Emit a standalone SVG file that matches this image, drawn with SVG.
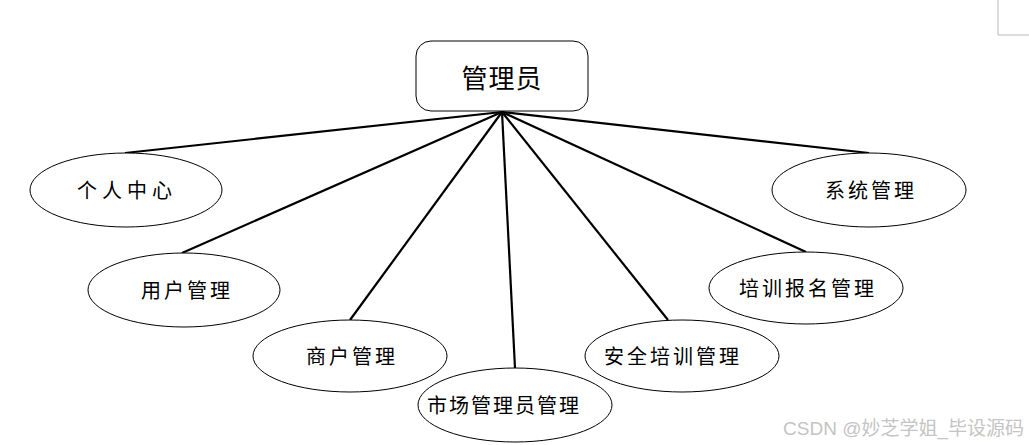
<svg xmlns="http://www.w3.org/2000/svg" width="1029" height="445" viewBox="0 0 1029 445">
<style>
.n{fill:#fff;stroke:#000;stroke-width:1}
.t{font-family:"Noto Sans CJK SC","Noto Sans",sans-serif;font-size:20px;fill:#000;text-anchor:middle;dominant-baseline:central;letter-spacing:3px}
.c line{stroke:#000;stroke-width:2.2}
</style>
<rect width="1029" height="445" fill="#fff"/>
<path d="M998 0V35H1029" fill="none" stroke="#bbb" stroke-width="1"/>
<g class="c" id="connectors">
<line x1="502" y1="112" x2="125" y2="153"/>
<line x1="502" y1="112" x2="869" y2="153"/>
<line x1="502" y1="112" x2="182" y2="253"/>
<line x1="502" y1="112" x2="350" y2="320"/>
<line x1="502" y1="112" x2="515" y2="368"/>
<line x1="502" y1="112" x2="668" y2="320"/>
<line x1="502" y1="112" x2="806" y2="252"/>
</g>
<g id="admin"><rect class="n" x="416" y="41" width="172" height="70" rx="15"/><text class="t" x="502" y="76" style="font-size:26px;letter-spacing:1px">管理员</text></g>
<g id="personal"><ellipse class="n" cx="126" cy="190" rx="96" ry="37"/><text class="t" x="127" y="189" style="letter-spacing:5px">个人中心</text></g>
<g id="system"><ellipse class="n" cx="869" cy="190" rx="97" ry="37"/><text class="t" x="871" y="189">系统管理</text></g>
<g id="user"><ellipse class="n" cx="184" cy="290" rx="96" ry="37"/><text class="t" x="187" y="289">用户管理</text></g>
<g id="training-signup"><ellipse class="n" cx="806" cy="288" rx="97" ry="36"/><text class="t" x="808" y="287">培训报名管理</text></g>
<g id="merchant"><ellipse class="n" cx="350" cy="356" rx="97" ry="36"/><text class="t" x="352" y="355">商户管理</text></g>
<g id="safety"><ellipse class="n" cx="682" cy="356" rx="97" ry="36"/><text class="t" x="673" y="355">安全培训管理</text></g>
<g id="market-admin"><ellipse class="n" cx="515" cy="405" rx="97" ry="37"/><text class="t" x="504" y="404" style="letter-spacing:2px">市场管理员管理</text></g>
<text x="1024" y="428" style="font-family:'Liberation Sans','Noto Sans CJK SC',sans-serif;font-size:19px;fill:#c4c4c4;text-anchor:end;dominant-baseline:central">CSDN @妙芝学姐_毕设源码</text>
</svg>
